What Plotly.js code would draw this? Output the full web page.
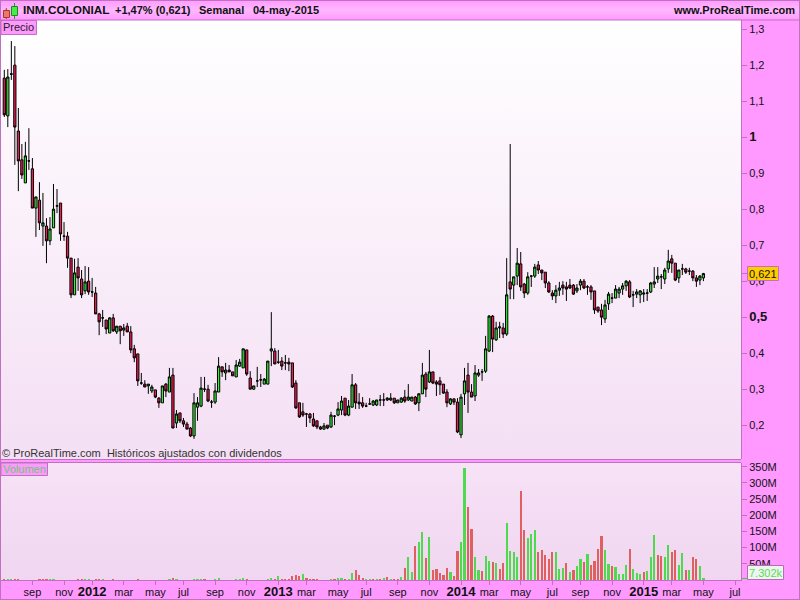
<!DOCTYPE html>
<html><head><meta charset="utf-8">
<script src="https://cdn.plot.ly/plotly-3.0.1.min.js"></script>
<style>
html,body{margin:0;padding:0;width:800px;height:600px;overflow:hidden;background:#ff99ff}
#head{position:absolute;left:0;top:0;width:800px;height:20px;background:linear-gradient(#ff99ff,#ffb8ff 50%,#ff99ff)}
#p1{position:absolute;left:1px;top:20px;width:740px;height:439px;background:linear-gradient(#ffffff,#f4dff4)}
#p2{position:absolute;left:1px;top:463px;width:740px;height:117px;background:linear-gradient(#f7e2f7,#f0d6f0)}
#chart{position:absolute;left:0;top:0;width:800px;height:600px}
</style></head><body>
<div id="head"></div><div id="p1"></div><div id="p2"></div><div id="chart"></div>
<script>
const open_=[1.164,1.059,1.176,1.200,1.017,.937,.873,.934,.912,.803,
.825,.753,.753,.712,.748,.809,.817,.725,.725,.664,
.562,.639,.606,.573,.600,.570,.567,.509,.498,.492,
.456,.498,.459,.475,.464,.475,.459,.412,.398,.317,
.314,.309,.295,.298,.275,.262,.314,.292,.339,.206,
.234,.212,.203,.192,.170,.250,.253,.300,.300,.264,
.264,.292,.362,.345,.353,.348,.334,.364,.359,.409,
.331,.300,.323,.326,.314,.314,.406,.406,.375,.378,
.373,.375,.373,.317,.262,.237,.231,.231,.217,.212,
.195,.189,.200,.195,.225,.228,.242,.275,.228,.250,
.312,.264,.262,.253,.259,.256,.256,.270,.270,.270,
.270,.275,.262,.264,.278,.270,.267,.278,.262,.287,
.342,.320,.348,.320,.323,.314,.292,.259,.273,.264,
.173,.287,.339,.292,.281,.339,.348,.350,.406,.503,
.437,.470,.470,.453,.598,.589,.614,.648,.592,.567,
.614,.614,.645,.631,.625,.595,.567,.559,.575,.589,
.584,.589,.589,.573,.589,.600,.584,.584,.573,.528,
.520,.495,.537,.553,.553,.567,.578,.587,.598,.562,
.564,.562,.564,.567,.570,.592,.606,.612,.606,.634,
.662,.650,.609,.634,.634,.628,.628,.609,.603,.609];
const high=[1.187,1.189,1.267,1.253,1.081,.981,.987,1.025,.942,.834,
.875,.845,.775,.778,.870,.856,.817,.764,.737,.664,
.662,.664,.631,.642,.639,.609,.584,.512,.520,.492,
.500,.509,.475,.475,.481,.484,.475,.423,.398,.345,
.325,.314,.312,.298,.278,.309,.317,.359,.359,.242,
.234,.220,.209,.195,.289,.278,.334,.334,.312,.270,
.317,.389,.362,.373,.367,.348,.381,.384,.412,.409,
.350,.309,.362,.342,.331,.378,.514,.414,.409,.389,
.395,.387,.373,.325,.262,.262,.234,.234,.234,.212,
.198,.206,.200,.237,.228,.264,.281,.275,.270,.342,
.317,.289,.278,.262,.275,.270,.270,.284,.289,.278,
.289,.275,.270,.278,.298,.314,.278,.281,.289,.373,
.348,.409,.348,.325,.334,.314,.300,.275,.275,.275,
.287,.359,.373,.314,.367,.356,.356,.448,.506,.506,
.487,.487,.484,.664,.981,.612,.692,.681,.595,.625,
.617,.648,.656,.631,.625,.600,.575,.589,.598,.600,
.598,.606,.592,.592,.606,.606,.589,.589,.573,.528,
.537,.548,.570,.567,.589,.584,.595,.603,.603,.573,
.578,.575,.578,.578,.598,.639,.639,.620,.637,.687,
.673,.650,.631,.648,.637,.637,.631,.617,.617,.623];
const low=[1.056,1.028,1.159,.923,.850,.884,.873,.909,.803,.723,
.742,.698,.650,.700,.748,.789,.712,.712,.637,.553,
.562,.573,.553,.564,.562,.556,.509,.450,.473,.453,
.456,.459,.453,.425,.448,.459,.400,.375,.309,.312,
.306,.287,.289,.275,.248,.262,.278,.292,.192,.192,
.206,.195,.189,.167,.162,.212,.250,.292,.264,.248,
.259,.292,.334,.325,.348,.337,.334,.362,.359,.337,
.300,.298,.306,.306,.314,.314,.364,.370,.370,.353,
.353,.350,.303,.245,.220,.223,.195,.206,.195,.189,
.187,.187,.189,.192,.200,.225,.228,.225,.225,.250,
.245,.245,.248,.250,.256,.253,.253,.253,.253,.267,
.267,.259,.262,.262,.262,.267,.267,.256,.239,.287,
.278,.317,.314,.281,.284,.287,.250,.256,.256,.178,
.164,.256,.234,.278,.267,.334,.323,.345,.403,.403,
.434,.442,.442,.448,.550,.550,.589,.573,.553,.562,
.584,.609,.620,.603,.581,.567,.548,.539,.559,.562,
.545,.578,.562,.567,.575,.578,.562,.548,.509,.512,
.478,.484,.520,.539,.553,.553,.562,.573,.553,.528,
.553,.539,.542,.545,.567,.581,.595,.578,.592,.623,
.623,.600,.595,.617,.620,.617,.600,.584,.589,.600];
const close_=[1.062,1.167,1.175,1.028,.934,.895,.948,.934,.803,.834,
.762,.762,.712,.745,.800,.809,.731,.725,.664,.562,
.623,.609,.562,.598,.570,.570,.509,.487,.498,.467,
.498,.462,.475,.462,.470,.459,.409,.387,.323,.317,
.306,.314,.306,.278,.262,.309,.295,.334,.192,.231,
.212,.203,.189,.170,.262,.262,.303,.300,.267,.264,
.295,.364,.348,.353,.348,.337,.367,.375,.412,.342,
.300,.309,.323,.326,.328,.378,.412,.370,.375,.364,
.373,.370,.306,.248,.223,.228,.231,.220,.198,.195,
.189,.198,.192,.228,.225,.245,.267,.228,.253,.312,
.262,.259,.253,.253,.259,.267,.270,.270,.270,.275,
.275,.262,.270,.275,.267,.278,.278,.259,.287,.339,
.300,.348,.317,.314,.312,.289,.262,.273,.264,.181,
.278,.323,.292,.278,.345,.345,.348,.412,.503,.439,
.470,.473,.453,.562,.578,.612,.650,.584,.567,.612,
.614,.639,.631,.623,.595,.570,.559,.575,.581,.581,
.578,.581,.564,.581,.600,.581,.584,.570,.520,.517,
.500,.534,.564,.553,.578,.578,.587,.600,.556,.562,
.570,.573,.567,.567,.595,.598,.614,.612,.631,.656,
.650,.603,.631,.634,.625,.628,.609,.600,.614,.621];
// Volume in millions of shares, per week
const volume=[3,3,3,3,3,0,0,0,0,0,
3,3,3,3,3,0,0,0,0,0,
0,3,3,3,3,0,3,3,3,0,
0,3,0,0,0,0,0,0,3,0,
0,0,0,0,0,0,0,4,7,3,
0,0,0,0,3,3,3,3,0,0,
3,7,0,0,0,0,3,3,7,4,
0,0,0,0,0,3,7,4,11,3,
3,3,13,16,11,19,7,3,3,3,
0,0,0,3,3,7,7,3,4,22,
31,17,7,3,3,3,3,3,7,10,
3,3,3,10,36,70,24,105,117,148,
67,133,31,34,22,15,36,24,12,90,
117,345,227,158,71,31,28,75,59,56,
53,33,53,177,90,87,72,275,155,130,
142,153,87,92,78,65,87,87,34,37,
53,25,32,44,65,56,81,47,60,97,
136,93,50,44,41,18,19,47,97,35,
22,18,26,28,72,140,76,75,70,107,
88,93,47,84,32,32,70,65,43,5];
// 1 = green volume bar, 0 = red volume bar
const volumeUp=[0,1,1,0,0,1,1,1,1,1,
0,0,0,1,1,1,1,1,1,1,
1,0,0,1,1,1,0,0,1,1,
1,0,1,1,1,1,1,1,0,1,
1,1,1,1,1,1,1,1,0,1,
1,1,1,1,1,1,1,0,1,1,
1,1,1,1,1,1,1,1,1,0,
1,1,1,1,1,1,1,0,1,0,
0,0,0,0,0,1,0,0,0,0,
1,1,1,1,0,1,1,0,1,1,
0,0,0,1,1,0,1,0,1,0,
1,0,0,1,0,1,1,0,1,1,
0,1,0,0,0,0,0,1,0,0,
1,1,0,0,1,1,0,1,1,0,
1,0,0,1,1,1,1,0,0,1,
1,1,0,0,0,0,0,1,1,1,
0,1,0,1,1,0,1,0,0,0,
0,1,1,0,1,1,1,1,0,1,
1,1,0,1,1,1,0,0,1,1,
0,0,1,1,0,1,0,0,1,1];
const xTickIndex=[8,17,25,34,43,51,60,69,78,86,95,103,112,121,130,138,147,156,164,173,182,190,199,208];
const xTickLabels=['sep','nov','2012','mar','may','jul','sep','nov','2013','mar','may','jul','sep','nov','2014','mar','may','jul','sep','nov','2015','mar','may','jul'];
const priceTicks=[1.3,1.2,1.1,1,.9,.8,.7,.6,.5,.4,.3,.2];
const priceLabels=['1,3','1,2','1,1','1','0,9','0,8','0,7','0,6','0,5','0,4','0,3','0,2'];
const boldPrices=['1','0,5'];
const volTicks=[50,100,150,200,250,300,350];
const volLabels=['50M','100M','150M','200M','250M','300M','350M'];
const lastPrice=0.621;
const lastPriceLabel='0,621';
const lastVolLabel='7.302k';

if([open_,high,low,close_,volume,volumeUp].some(a=>a.length!==200)) throw new Error('len '+[open_,high,low,close_,volume,volumeUp].map(a=>a.length));

const idx=open_.map((_,i)=>i);
const W=800,H=600;
const px=v=>v/W, py=v=>1-v/H;
const FONT='"Liberation Sans", Arial, sans-serif';
const BORDER='#c070c0';
const traces=[{
  type:'candlestick',x:idx,open:open_,high:high,low:low,close:close_,xaxis:'x',yaxis:'y',
  increasing:{line:{color:'#000',width:1},fillcolor:'#33ee33'},
  decreasing:{line:{color:'#000',width:1},fillcolor:'#ee1c54'},
  whiskerwidth:0,hoverinfo:'skip'
},{
  type:'bar',x:idx,y:volume,xaxis:'x',yaxis:'y2',width:0.62,
  marker:{color:volumeUp.map(u=>u?'#4fd94f':'#e06060'),line:{width:0}},hoverinfo:'skip'
}];
const txt=(text,x,y,o={})=>Object.assign({text,x:px(x),y:py(y),xref:'paper',yref:'paper',xanchor:'left',yanchor:'middle',showarrow:false,
  font:{family:FONT,size:11,color:'#111'}},o);
const box=(x0,y0,x1,y1,fill,line)=>({type:'rect',xref:'paper',yref:'paper',x0:px(x0),x1:px(x1),y0:py(y0),y1:py(y1),fillcolor:fill,line:{color:line||'rgba(0,0,0,0)',width:1},layer:'above'});
const ln=(x0,y0,x1,y1,c,w)=>({type:'line',xref:'paper',yref:'paper',x0:px(x0),x1:px(x1),y0:py(y0),y1:py(y1),line:{color:c,width:w||1},layer:'above'});
const layout={
  width:W,height:H,margin:{l:0,r:0,t:0,b:0},paper_bgcolor:'rgba(0,0,0,0)',plot_bgcolor:'rgba(0,0,0,0)',
  showlegend:false,bargap:0,boxgap:0.2,boxgroupgap:0.2,dragmode:false,separators:', ',font:{family:FONT,size:11,color:'#111'},
  xaxis:{domain:[0,741/W],range:[-1.224,209.7],anchor:'y2',tickmode:'array',tickvals:xTickIndex,
    ticktext:xTickLabels.map(s=>/^\d/.test(s)?'<span style="font-size:13px"><b>'+s+'</b></span>':s),
    ticks:'outside',ticklen:4,tickcolor:BORDER,tickfont:{family:FONT,size:11,color:'#111'},ticklabelstandoff:-2,
    showgrid:false,zeroline:false,showline:true,linecolor:BORDER,rangeslider:{visible:false},tickangle:0},
  yaxis:{domain:[py(459),py(20)],range:[1.381-459/360,1.381-20/360],side:'right',anchor:'x',tickmode:'array',
    tickvals:priceTicks.concat([lastPrice]),
    ticktext:priceLabels.map(s=>boldPrices.includes(s)?'<span style="font-size:13px"><b>'+s+'</b></span>':s).concat(['']),
    ticks:'outside',ticklen:5,tickcolor:BORDER,tickfont:{family:FONT,size:11,color:'#111'},
    showgrid:false,zeroline:false,showline:true,linecolor:BORDER},
  yaxis2:{domain:[py(580),py(463)],range:[0,117/0.3236],side:'right',anchor:'x',tickmode:'array',
    tickvals:volTicks,ticktext:volLabels,ticks:'outside',ticklen:5,tickcolor:BORDER,
    tickfont:{family:FONT,size:11,color:'#111'},showgrid:false,zeroline:false,showline:true,linecolor:BORDER},
  shapes:[
    ln(0,20,800,20,BORDER),ln(0,459.5,741,459.5,BORDER),ln(0,462.5,741,462.5,BORDER),
    ln(0.5,0,0.5,600,BORDER),ln(799.5,0,799.5,600,BORDER),ln(0,0.5,800,0.5,BORDER),ln(0,599.5,800,599.5,BORDER),
    ln(6.3,8,6.3,19,'#b33'),box(3.5,10.5,9.5,17.5,'#ee7766','#a33'),
    ln(14.5,3,14.5,19,'#292'),box(11.5,6.5,17.5,15.5,'#44ee44','#282'),
    box(1,20.5,36.5,34.5,'#ff99ff',BORDER),box(1,463,47.5,475.5,'#ff99ff',BORDER),
    ln(742,578.5,747,578.5,'#44cc44'),
    box(747.5,266.5,778.5,280.5,'#ffcc00',BORDER),box(747.5,565.5,783.5,579.5,'#f0f4f0','#b070b0')
  ],
  annotations:[
    txt('<b>INM.COLONIAL</b>',21,10,{font:{family:FONT,size:11.8,color:'#111'}}),
    txt('<b>+1,47% (0,621)</b>',113,10),
    txt('<b>Semanal</b>',197,10),
    txt('<b>04-may-2015</b>',251,10),
    txt('<b>www.ProRealTime.com</b>',797,10,{xanchor:'right'}),
    txt('Precio',1,26.5,{font:{family:FONT,size:11,color:'#222'}}),
    txt('Volumen',1,468.5,{font:{family:FONT,size:11,color:'#66cc66'}}),
    txt('© ProRealTime.com  Históricos ajustados con dividendos',0,452.5,{font:{family:FONT,size:11,color:'#333'}}),
    txt(lastPriceLabel,747,273.5,{font:{family:FONT,size:11,color:'#111'}}),
    txt(lastVolLabel,747,572.5,{font:{family:FONT,size:11,color:'#55dd55'}})
  ]
};
Plotly.newPlot('chart',traces,layout,{staticPlot:true,displayModeBar:false});
</script></body></html>
